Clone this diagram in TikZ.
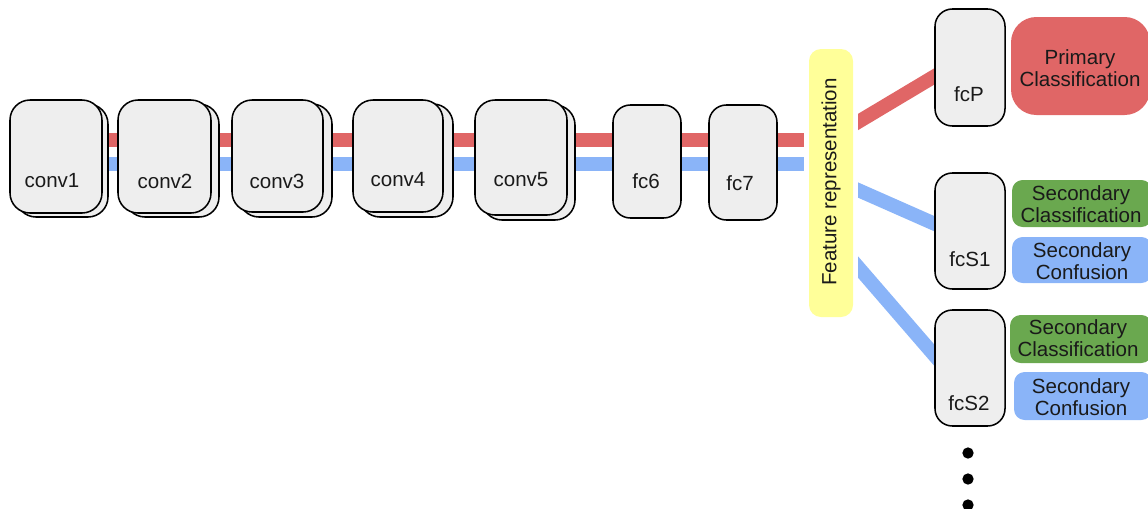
\documentclass[tikz,border=0pt]{standalone}
\usepackage{fontspec}
\setmainfont{Liberation Sans}
\usetikzlibrary{fit,calc}
\definecolor{boxgray}{HTML}{EEEEEE}
\definecolor{linered}{HTML}{E06666}
\definecolor{lineblue}{HTML}{8AB4F8}
\definecolor{featyellow}{HTML}{FFFF99}
\definecolor{secgreen}{HTML}{6AA84F}
\definecolor{inkdark}{HTML}{1A1A1A}

\begin{document}
\begin{tikzpicture}[x=0.75pt, y=-0.75pt,
  layerbox/.style={draw=black, line width=1.15pt, fill=boxgray, rounded corners=15pt, inner sep=0pt},
  fcbox/.style={layerbox, rounded corners=13pt},
  lbl/.style={font=\fontsize{15.4}{16}\selectfont, text=inkdark, inner sep=0pt, align=center},
  tagbox/.style={inner sep=0pt, rounded corners=8pt},
  redpath/.style={draw=linered, line width=10.5pt},
  bluepath/.style={draw=lineblue, line width=10.5pt},
  dotmark/.style={circle, fill=black, inner sep=0pt, minimum size=8.5pt}]

\useasboundingbox (0,0) rectangle (1148,508);

% two data streams through the shared trunk
\coordinate (rA) at (60,140);  \coordinate (rB) at (804,140);
\coordinate (bA) at (60,164);  \coordinate (bB) at (804,164);
\draw[redpath]  (rA) -- (rB);
\draw[bluepath] (bA) -- (bB);

% convolutional layers (stacked look)
\node[layerbox, fit={(16,104) (108,217)}]  (conv1b) {};
\node[layerbox, fit={(10,100) (102,213)}]  (conv1) {};
\node[layerbox, fit={(125,104) (219,217)}] (conv2b) {};
\node[layerbox, fit={(118,100) (211,213)}] (conv2) {};
\node[layerbox, fit={(239,104) (332,217)}] (conv3b) {};
\node[layerbox, fit={(232,100) (323,212)}] (conv3) {};
\node[layerbox, fit={(360,104) (453,217)}] (conv4b) {};
\node[layerbox, fit={(353,100) (443,212)}] (conv4) {};
\node[layerbox, fit={(482,105) (575,220)}] (conv5b) {};
\node[layerbox, fit={(475,100) (567,215)}] (conv5) {};

% fully connected layers
\node[fcbox, fit={(613,105) (681,218)}] (fc6) {};
\node[fcbox, fit={(709,105) (777,220)}] (fc7) {};

\node[lbl] (conv1t) at (52,181)  {conv1};
\node[lbl] (conv2t) at (165,181) {conv2};
\node[lbl] (conv3t) at (277,181) {conv3};
\node[lbl] (conv4t) at (398,180) {conv4};
\node[lbl] (conv5t) at (521,180) {conv5};
\node[lbl] (fc6t)   at (646,181) {fc6};
\node[lbl] (fc7t)   at (740,183) {fc7};

% shared feature representation
\node[fill=featyellow, rounded corners=9pt, inner sep=0pt, fit={(809,49) (853,317)}] (feat) {};
\node[lbl, rotate=90] (featt) at (831,182) {Feature representation};

% branches to the task heads
\coordinate (pA) at (858,122);  \coordinate (pB) at (935,76);
\coordinate (s1A) at (858,190); \coordinate (s1B) at (935,224);
\coordinate (s2A) at (858,267); \coordinate (s2B) at (935,356);
\begin{scope}
  \clip (858,0) rectangle (960,508);
  \draw[redpath,  shorten <=-10pt, shorten >=-10pt] (pA) -- (pB);
  \draw[bluepath, shorten <=-10pt, shorten >=-10pt] (s1A) -- (s1B);
  \draw[bluepath, shorten <=-10pt, shorten >=-10pt] (s2A) -- (s2B);
\end{scope}

% task-specific heads
\node[fcbox, fit={(935,9) (1005,126)}]   (fcP) {};
\node[fcbox, fit={(935,173) (1005,289)}] (fcS1) {};
\node[fcbox, fit={(935,310) (1005,426)}] (fcS2) {};
\node[lbl] (fcPt)  at (969,94)  {fcP};
\node[lbl] (fcS1t) at (970,259) {fcS1};
\node[lbl] (fcS2t) at (969,403) {fcS2};

% objectives
\node[tagbox, fill=linered, rounded corners=19pt, fit={(1011,17) (1150,115)}] (prim) {};
\node[lbl] (primt) at (1080,68) {Primary\\Classification};
\node[tagbox, fill=secgreen, fit={(1012,180) (1152,227)}] (sc1) {};
\node[lbl] (sc1t) at (1081,204) {Secondary\\Classification};
\node[tagbox, fill=lineblue, fit={(1012,237) (1152,283)}] (cf1) {};
\node[lbl] (cf1t) at (1082,261) {Secondary\\Confusion};
\node[tagbox, fill=secgreen, fit={(1010,315) (1152,363)}] (sc2) {};
\node[lbl] (sc2t) at (1078,338) {Secondary\\Classification};
\node[tagbox, fill=lineblue, fit={(1014,372) (1152,420)}] (cf2) {};
\node[lbl] (cf2t) at (1081,397) {Secondary\\Confusion};

% more heads follow
\node[dotmark] (d1) at (968,453) {};
\node[dotmark] (d2) at (968,479) {};
\node[dotmark] (d3) at (968,505) {};
\end{tikzpicture}
\end{document}
